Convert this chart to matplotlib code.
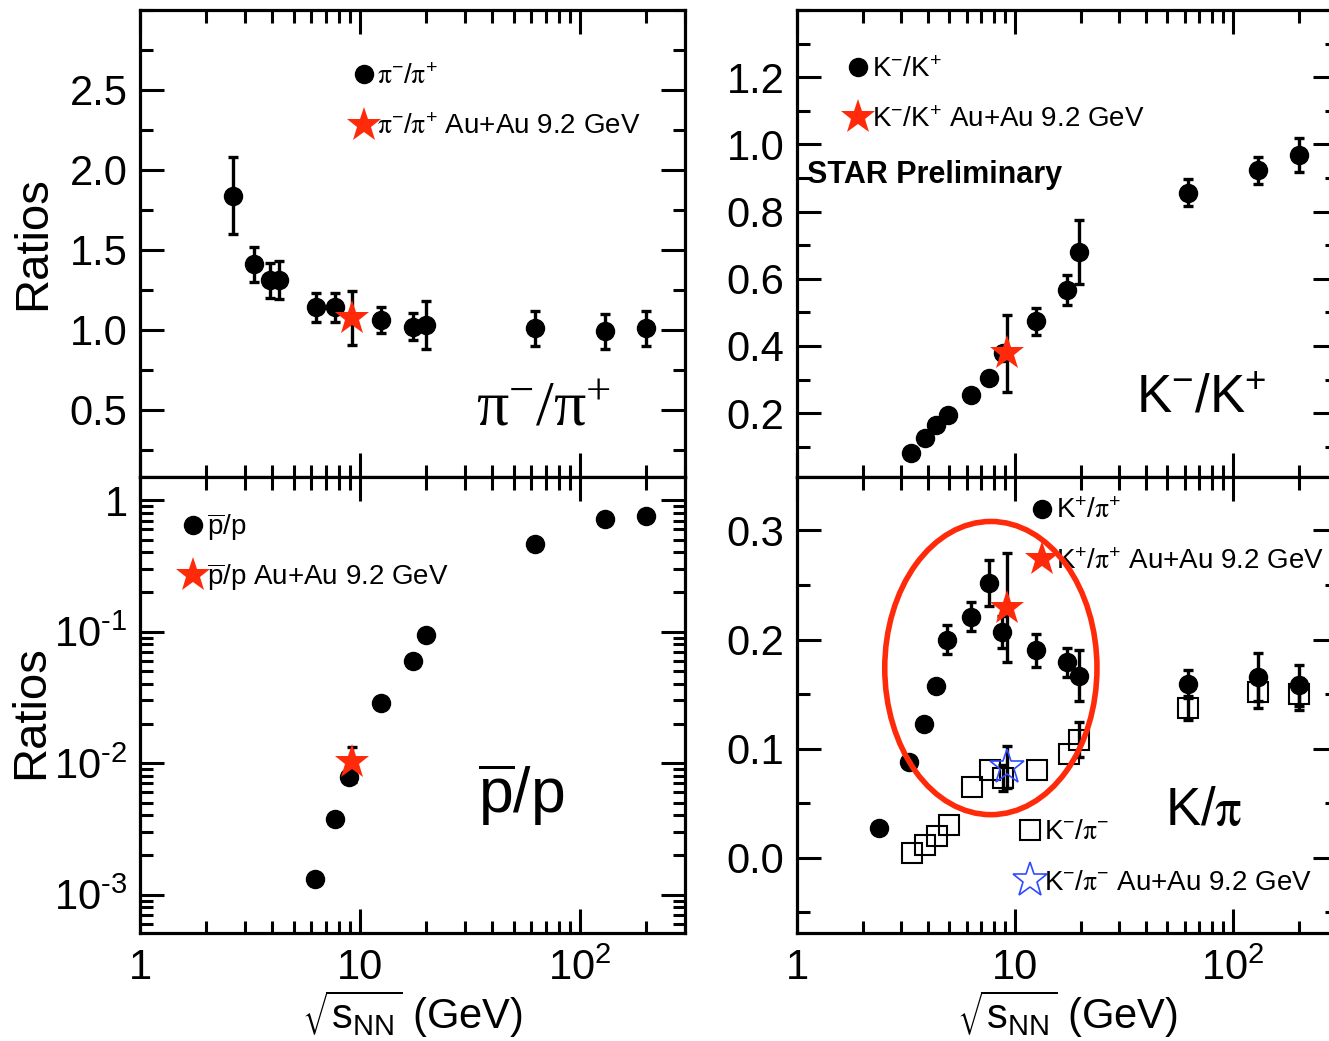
import math
import matplotlib
matplotlib.use("Agg")
import matplotlib.pyplot as plt
from matplotlib.lines import Line2D
from matplotlib.patches import Ellipse
from matplotlib.font_manager import FontProperties
from matplotlib.ticker import MultipleLocator, FixedLocator, FuncFormatter, LogLocator, NullFormatter, FormatStrFormatter

plt.rcParams['font.family'] = ['Liberation Sans', 'DejaVu Sans']
plt.rcParams['mathtext.default'] = 'regular'

# ---- data (sqrt(s_NN) in GeV) ----
# pi-/pi+
pi_snn = [2.65, 3.3, 3.9, 4.3, 6.3, 7.7, 12.4, 17.4, 19.9, 62.4, 130, 200]
pi_val = [1.84, 1.41, 1.31, 1.31, 1.14, 1.14, 1.06, 1.02, 1.03, 1.01, 0.99, 1.01]
pi_err = [0.24, 0.11, 0.11, 0.12, 0.09, 0.09, 0.08, 0.085, 0.15, 0.11, 0.11, 0.11]
pi_star = [9.2, 1.075, 0.17]   # x, y, err

# K-/K+
kk_snn = [3.32, 3.88, 4.35, 4.93, 6.3, 7.6, 8.8, 12.5, 17.3, 19.6, 62.4, 130, 200]
kk_val = [0.080, 0.126, 0.164, 0.194, 0.254, 0.304, 0.378, 0.473, 0.567, 0.679, 0.856, 0.923, 0.968]
kk_err = [0.0, 0.0, 0.0, 0.0, 0.0, 0.0, 0.0, 0.04, 0.045, 0.095, 0.04, 0.04, 0.05]
kk_star = [9.2, 0.378, 0.115]

# pbar/p
pp_snn = [6.26, 7.66, 8.88, 12.4, 17.5, 19.9, 62.4, 130, 200]
pp_val = [1.32e-3, 3.77e-3, 7.83e-3, 2.86e-2, 5.93e-2, 9.46e-2, 0.465, 0.713, 0.764]
pp_err = [0.0, 4e-4, 0.0, 0.0, 0.0, 0.0, 0.0, 0.0, 0.0]
pp_star = [9.2, 1.02e-2, 3e-3]

# K+/pi+
kp_snn = [2.39, 3.26, 3.83, 4.32, 4.89, 6.29, 7.57, 8.74, 12.5, 17.3, 19.7, 62.4, 130, 200]
kp_val = [0.027, 0.088, 0.123, 0.157, 0.200, 0.221, 0.252, 0.207, 0.190, 0.179, 0.167, 0.159, 0.166, 0.158]
kp_err = [0.0, 0.0, 0.0, 0.0, 0.013, 0.013, 0.021, 0.015, 0.015, 0.013, 0.023, 0.013, 0.022, 0.019]
kp_star = [9.2, 0.229, 0.05]

# K-/pi-
km_snn = [3.36, 3.88, 4.38, 4.96, 6.35, 7.66, 8.84, 12.6, 17.6, 19.7, 62.4, 130, 200]
km_val = [0.004, 0.012, 0.020, 0.030, 0.065, 0.080, 0.073, 0.080, 0.095, 0.108, 0.137, 0.152, 0.150]
km_err = [0.0, 0.0, 0.0, 0.0, 0.0, 0.0, 0.012, 0.0, 0.0, 0.016, 0.011, 0.015, 0.015]
km_star = [9.2, 0.083, 0.019]

RED = '#ff2a0a'
BLUE = '#2f4bff'
FS_TICK = 30
FS_LEG = 20
ERR_KW = dict(fmt='none', ecolor='k', elinewidth=2.4, capsize=3.8, capthick=2.4)

fig = plt.figure(figsize=(13.29, 10.41), dpi=100)
W, H = 1329.0, 1041.0
ax_tl = fig.add_axes([140 / W, 1 - 477 / H, 545 / W, 467 / H])
ax_tr = fig.add_axes([797 / W, 1 - 477 / H, 540 / W, 467 / H])
ax_bl = fig.add_axes([140 / W, 1 - 933 / H, 545 / W, 456 / H])
ax_br = fig.add_axes([797 / W, 1 - 933 / H, 540 / W, 456 / H])


def xfmt(v, pos):
    if v == 1:
        return '1'
    if v == 10:
        return '10'
    if v == 100:
        return r'$10^{2}$'
    return ''


def yfmt_log(v, pos):
    if abs(v - 1) < 1e-9:
        return '1'
    e = int(round(math.log10(v)))
    # short hyphen like the original instead of a wide minus sign
    return r'$10^{‐%d}$' % (-e)


def style(ax, bottom_labels):
    for s in ax.spines.values():
        s.set_linewidth(2.3)
    ax.set_xscale('log')
    ax.set_xlim(1, 300)
    ax.xaxis.set_major_locator(FixedLocator([1, 10, 100]))
    ax.xaxis.set_minor_locator(LogLocator(base=10, subs=range(2, 10), numticks=20))
    ax.xaxis.set_minor_formatter(NullFormatter())
    if bottom_labels:
        ax.xaxis.set_major_formatter(FuncFormatter(xfmt))
    else:
        ax.xaxis.set_major_formatter(NullFormatter())
    ax.tick_params(which='both', direction='in', top=True, right=True, width=2.2)
    ax.tick_params(which='major', length=17)
    ax.tick_params(which='minor', length=9)
    ax.tick_params(axis='x', labelsize=FS_TICK, pad=11)
    ax.tick_params(axis='y', labelsize=FS_TICK, pad=9)


def draw(ax, x, y, e, z=3):
    ex = [a for a, b in zip(x, e) if b > 0]
    ey = [a for a, b in zip(y, e) if b > 0]
    ee = [b for b in e if b > 0]
    ax.errorbar(ex, ey, yerr=ee, zorder=z, **ERR_KW)
    ax.plot(x, y, 'o', color='k', ms=13, zorder=z + 0.5)


def draw_star(ax, s, color, filled=True):
    ax.errorbar([s[0]], [s[1]], yerr=[s[2]], zorder=5, **ERR_KW)
    if filled:
        ax.plot([s[0]], [s[1]], '*', color=color, ms=26, mew=0, zorder=5.5)
    else:
        ax.plot([s[0]], [s[1]], '*', mfc='none', mec=color, mew=1.2, ms=26, zorder=5.5)


def leg(ax, handles, labels, anchor, spacing=0.87):
    prop = FontProperties(size=FS_LEG, math_fontfamily='stix')
    lg = ax.legend(handles, labels, loc='upper left', bbox_to_anchor=anchor, frameon=False,
                   prop=prop, handlelength=0.6, handletextpad=0.2, labelspacing=spacing,
                   borderpad=0, borderaxespad=0, numpoints=1)
    return lg


h_dot = Line2D([], [], marker='o', color='k', ls='none', ms=13)
h_star = Line2D([], [], marker='*', color=RED, mew=0, ls='none', ms=26)
h_sq = Line2D([], [], marker='s', mfc='none', mec='k', mew=1.5, ls='none', ms=14)
h_ostar = Line2D([], [], marker='*', mfc='none', mec=BLUE, mew=1.2, ls='none', ms=26)

PI = r'\mathrm{π}'

# ---- top left: pi-/pi+ ----
ax = ax_tl
style(ax, False)
ax.set_ylim(0.08, 3.0)
ax.yaxis.set_major_locator(FixedLocator([0.5, 1.0, 1.5, 2.0, 2.5]))
ax.yaxis.set_minor_locator(MultipleLocator(0.25))
ax.yaxis.set_major_formatter(FormatStrFormatter('%.1f'))
draw(ax, pi_snn, pi_val, pi_err)
draw_star(ax, pi_star, RED)
leg(ax, [h_dot, h_star], [r'$%s^{-}/%s^{+}$' % (PI, PI), r'$%s^{-}/%s^{+}$ Au+Au 9.2 GeV' % (PI, PI)],
    (0.395, 0.884))
ax.text(0.74, 0.111, r'$π^{-}/π^{+}$', transform=ax.transAxes, ha='center', va='baseline',
        fontsize=46, family='Liberation Serif')
ax.set_ylabel('Ratios', fontsize=34)
ax.yaxis.set_label_coords(-0.155, 0.5)

# ---- top right: K-/K+ ----
ax = ax_tr
style(ax, False)
ax.set_ylim(0.01, 1.4)
ax.yaxis.set_major_locator(FixedLocator([0.2, 0.4, 0.6, 0.8, 1.0, 1.2]))
ax.yaxis.set_minor_locator(MultipleLocator(0.1))
ax.yaxis.set_major_formatter(FormatStrFormatter('%.1f'))
draw(ax, kk_snn, kk_val, kk_err)
draw_star(ax, kk_star, RED)
leg(ax, [h_dot, h_star], [r'$K^{-}/K^{+}$', r'$K^{-}/K^{+}$ Au+Au 9.2 GeV'], (0.097, 0.900))
ax.text(0.0185, 0.647, 'STAR Preliminary', transform=ax.transAxes, ha='left', va='center',
        fontsize=22, fontweight='bold')
ax.text(0.748, 0.139, r'$K^{-}/K^{+}$', transform=ax.transAxes, ha='center', va='baseline',
        fontsize=38)

# ---- bottom left: pbar/p ----
ax = ax_bl
style(ax, True)
ax.set_yscale('log')
ax.set_ylim(5.1e-4, 1.5)
ax.yaxis.set_major_locator(FixedLocator([1e-3, 1e-2, 1e-1, 1]))
ax.yaxis.set_minor_locator(LogLocator(base=10, subs=range(2, 10), numticks=20))
ax.yaxis.set_major_formatter(FuncFormatter(yfmt_log))
ax.yaxis.set_minor_formatter(NullFormatter())
ax.tick_params(which='both', direction='in', top=True, right=True)
draw(ax, pp_snn, pp_val, pp_err)
draw_star(ax, pp_star, RED)
leg(ax, [h_dot, h_star], [r'$\overline{p}$/p', r'$\overline{p}$/p Au+Au 9.2 GeV'], (0.082, 0.926),
    spacing=0.66)
ax.text(0.70, 0.263, r'$\overline{p}$/p', transform=ax.transAxes, ha='center', va='baseline',
        fontsize=45)
ax.set_ylabel('Ratios', fontsize=34)
ax.yaxis.set_label_coords(-0.16, 0.485)
ax.set_xlabel(r'$\sqrt{s_{NN}}$ (GeV)', fontsize=30, labelpad=0)

# ---- bottom right: K/pi ----
ax = ax_br
style(ax, True)
ax.set_ylim(-0.069, 0.349)
ax.yaxis.set_major_locator(FixedLocator([0.0, 0.1, 0.2, 0.3]))
ax.yaxis.set_minor_locator(MultipleLocator(0.05))
ax.yaxis.set_major_formatter(FormatStrFormatter('%.1f'))
kx = [a for a, b in zip(km_snn, km_err) if b > 0]
ky = [a for a, b in zip(km_val, km_err) if b > 0]
ax.errorbar(kx, ky, yerr=[b for b in km_err if b > 0], zorder=3, **ERR_KW)
ax.plot(km_snn, km_val, 's', mfc='none', mec='k', mew=1.5, ms=14, zorder=3.5)
draw(ax, kp_snn, kp_val, kp_err, z=4)
draw_star(ax, kp_star, RED)
draw_star(ax, km_star, BLUE, filled=False)
lg1 = leg(ax, [h_dot, h_star], [r'$K^{+}/%s^{+}$' % PI, r'$K^{+}/%s^{+}$ Au+Au 9.2 GeV' % PI],
          (0.438, 0.953))
ax.add_artist(lg1)
leg(ax, [h_sq, h_ostar], [r'$K^{-}/%s^{-}$' % PI, r'$K^{-}/%s^{-}$ Au+Au 9.2 GeV' % PI], (0.416, 0.249))
ax.text(0.753, 0.237, r'K/$\mathrm{π}$', transform=ax.transAxes, ha='center', va='baseline',
        fontsize=38, math_fontfamily='stix')
ax.add_patch(Ellipse((0.359, 0.581), 0.393, 0.643, transform=ax.transAxes, fill=False,
                     edgecolor=RED, linewidth=4.0, zorder=6))
ax.set_xlabel(r'$\sqrt{s_{NN}}$ (GeV)', fontsize=30, labelpad=0)

fig.savefig('out.png', dpi=100)
